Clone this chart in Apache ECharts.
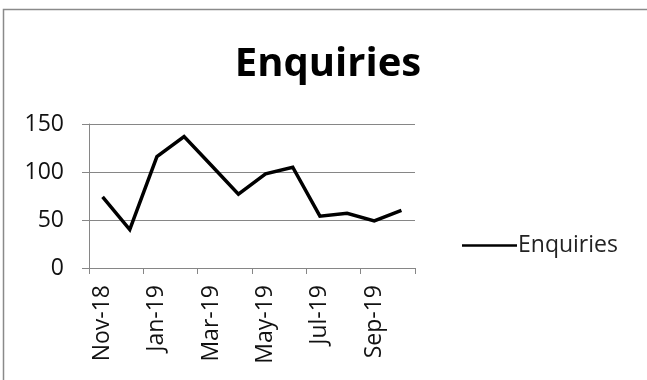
<!DOCTYPE html>
<html>
<head>
<meta charset="utf-8">
<script src="https://cdn.jsdelivr.net/npm/echarts@6/dist/echarts.min.js"></script>
<style>
  html, body { margin: 0; padding: 0; background: #fff; }
  #chart { width: 647px; height: 380px; }
</style>
</head>
<body>
<div id="chart"></div>
<script>
// Monthly enquiries, Nov 2018 – Oct 2019
const months = ['Nov-18', 'Dec-18', 'Jan-19', 'Feb-19', 'Mar-19', 'Apr-19',
                'May-19', 'Jun-19', 'Jul-19', 'Aug-19', 'Sep-19', 'Oct-19'];
const enquiries = [74, 40, 116, 137, 107, 77, 98, 105, 54, 57, 49, 60];
const seriesName = 'Enquiries';
const titleText = 'Enquiries';

const FONT = 'Open Sans';
const chart = echarts.init(document.getElementById('chart'), null, { renderer: 'canvas' });

chart.setOption({
  animation: false,
  backgroundColor: '#fff',
  graphic: [{
    type: 'rect',
    shape: { x: 3.5, y: 9.5, width: 700, height: 400 },
    style: { fill: 'none', stroke: '#8a8a8a', lineWidth: 1.5 },
    silent: true
  }],
  title: {
    text: titleText,
    left: 323,
    textAlign: 'center',
    top: 40,
    textStyle: { fontFamily: FONT, fontWeight: 'bold', fontSize: 40, color: '#000' }
  },
  legend: {
    data: [seriesName],
    left: 457,
    top: 229,
    itemWidth: 55,
    itemHeight: 14,
    itemGap: 4,
    icon: 'path://M0,6 L55,6 L55,8.5 L0,8.5 Z',
    textStyle: { fontFamily: FONT, fontSize: 23, color: '#222', padding: [0, 0, 0, -4] }
  },
  grid: { left: 89, right: 232, top: 124, bottom: 112, containLabel: false },
  xAxis: {
    type: 'category',
    data: months,
    boundaryGap: true,
    axisLine: { lineStyle: { color: '#868686', width: 1 } },
    axisTick: { show: true, interval: 1, length: 6, lineStyle: { color: '#868686' } },
    axisLabel: {
      interval: 1, rotate: 90, margin: 17,
      fontFamily: FONT, fontSize: 23, color: '#111'
    },
    splitLine: { show: false }
  },
  yAxis: {
    type: 'value',
    min: 0, max: 150, interval: 50,
    axisLine: { show: true, lineStyle: { color: '#868686', width: 1 } },
    axisTick: { show: true, length: 7, lineStyle: { color: '#868686' } },
    axisLabel: { margin: 25, fontFamily: FONT, fontSize: 23, color: '#111' },
    splitLine: { show: true, lineStyle: { color: '#868686', width: 1 } }
  },
  series: [{
    name: seriesName,
    type: 'line',
    data: enquiries,
    showSymbol: false,
    symbol: 'none',
    lineStyle: { color: '#000', width: 3.5, join: 'miter' },
    itemStyle: { color: '#000' }
  }]
});
</script>
</body>
</html>
